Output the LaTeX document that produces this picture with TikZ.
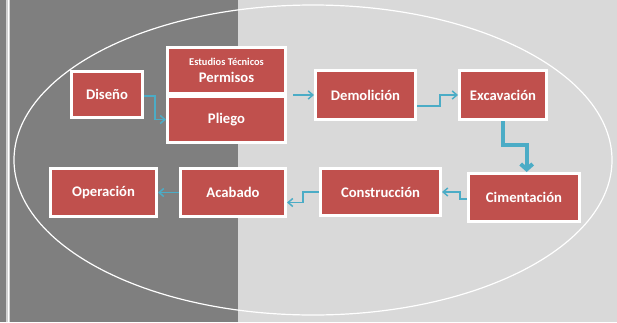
\documentclass[tikz,border=0pt]{standalone}
\usepackage{fontspec}
\setmainfont{Carlito}
\usepackage{tikz}
\usetikzlibrary{
  positioning,
  shadows,
  arrows.meta
}
\definecolor{darkbg}{HTML}{7F7F7F}
\definecolor{lightbg}{HTML}{D9D9D9}
\definecolor{boxred}{HTML}{C0504D}
\definecolor{flowblue}{HTML}{4BACC6}

\tikzset{
  box/.style={draw=white,line width=2.25pt,fill=boxred,inner sep=0pt,
    text=white,font=\fontsize{11}{12}\selectfont\bfseries,align=center,
    drop shadow={shadow xshift=1pt,shadow yshift=-1.2pt,opacity=0.35}},
  flow/.style={draw=flowblue,line width=1.1pt,-{Straight Barb[length=3.5pt,width=6pt]}},
  flowthick/.style={draw=flowblue,line width=3pt,-{Straight Barb[length=4pt,width=9pt]}}
}

\begin{document}
\begin{tikzpicture}[x=0.75pt,y=-0.75pt]
            \useasboundingbox (0,0) rectangle (617,322);
            % background
            \fill[darkbg] (0,0) rectangle (238,322);
            \fill[lightbg] (238,0) rectangle (617,322);
            \fill[lightbg!90!gray] (6,0) rectangle (10,322);
            \draw[white,line width=0.6pt] (8,0) -- (8,322);
            \draw[white,line width=0.9pt] (313,160) ellipse [x radius=224.25pt,y radius=116.25pt];
            % boxes
            \node[box,minimum width=53.25pt,minimum height=34.5pt] (dis) at (107,94.5) {Diseño};
            \node[box,minimum width=88.5pt,minimum height=34.5pt] (per) at (226.5,70.5) {{\fontsize{7.8}{9}\selectfont Estudios Técnicos}\\[1pt]Permisos};
            \node[box,minimum width=88.5pt,minimum height=34.5pt] (pli) at (226.5,119.5) {Pliego};
            \node[box,minimum width=75pt,minimum height=36.75pt] (dem) at (365.5,95) {Demolición};
            \node[box,minimum width=65.25pt,minimum height=36.75pt] (exc) at (503,95) {Excavación};
            \node[box,minimum width=83.25pt,minimum height=36pt] (cim) at (524,197.5) {Cimentación};
            \node[box,minimum width=90pt,minimum height=35.25pt] (con) at (380.5,192) {Construcción};
            \node[box,minimum width=78.75pt,minimum height=36pt] (aca) at (233,192.5) {Acabado};
            \node[box,minimum width=79.5pt,minimum height=36pt] (ope) at (103.5,192.5) {Operación};
            % connectors
            \draw[flow] ([yshift=-1pt]dis.east) -- ++(11,0) |- (pli.west);
            \draw[flow] ([xshift=4.5pt]per.south east) -- (dem.west);
            \draw[flow] ([yshift=-8.25pt]dem.east) -- ++(23,0) |- (exc.west);
            \draw[flowthick] (exc.south) -- ++(0,24) -| ([xshift=2pt]cim.north);
            \draw[flow] ([yshift=-1.2pt]cim.west) -- ++(-7,0) |- (con.east);
            \draw[flow] (con.west) -- ++(-16,0) |- ([yshift=-7.5pt]aca.east);
            \draw[flow] (aca.west) -- (ope.east);
        \end{tikzpicture}
\end{document}
